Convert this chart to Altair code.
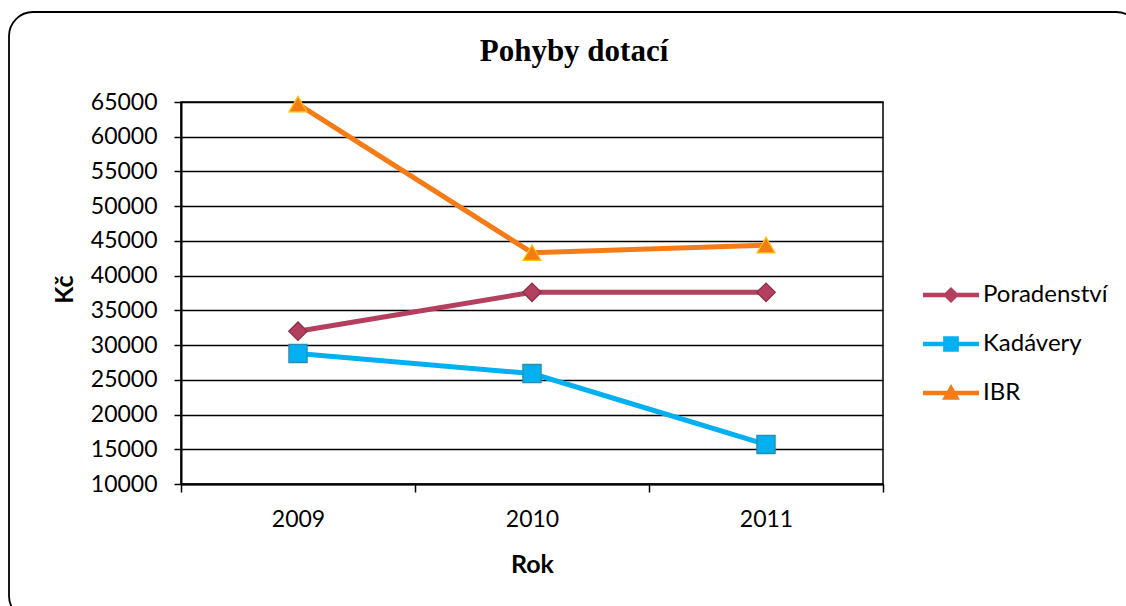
import altair as alt
import pandas as pd

# ---- data ----
YEARS = ["2009", "2010", "2011"]
SERIES = ["Poradenství", "Kadávery", "IBR"]
PORADENSTVI = [32000, 37600, 37600]
KADAVERY = [28800, 25900, 15700]
IBR = [64700, 43300, 44400]
Y_TICKS = [10000, 15000, 20000, 25000, 30000, 35000, 40000, 45000, 50000, 55000, 60000, 65000]

TITLE = "Pohyby dotací"
X_TITLE = "Rok"
Y_TITLE = "Kč"

# ---- styles ----
LINE_COLORS = ["#B3405E", "#00B0F0", "#F47B16"]
OUTLINE_COLORS = ["#8C2F47", "#2E8BAA", "#FFC000"]
SHAPES = ["diamond", "square", "triangle-up"]
SIZES = [340, 320, 420]
LEGEND_PATHS = [
    "M-1,-0.08L1,-0.08L1,0.08L-1,0.08Z M0,-0.29L0.29,0L0,0.29L-0.29,0Z",
    "M-1,-0.08L1,-0.08L1,0.08L-1,0.08Z M-0.28,-0.28L0.28,-0.28L0.28,0.28L-0.28,0.28Z",
    "M-1,-0.08L1,-0.08L1,0.08L-1,0.08Z M0,-0.32L0.32,0.24L-0.32,0.24Z",
]

rows = []
for name, vals in zip(SERIES, [PORADENSTVI, KADAVERY, IBR]):
    for yr, v in zip(YEARS, vals):
        rows.append({"Rok": yr, "Series": name, "Value": v})
df = pd.DataFrame(rows)

LABEL_FONT = "Lato"

X = alt.X(
    "Rok:O",
    sort=YEARS,
    bandPosition=0.5,
    scale=alt.Scale(type="band", domain=YEARS, paddingInner=0, paddingOuter=0),
    axis=alt.Axis(
        title=X_TITLE,
        tickBand="extent",
        labelAngle=0,
        labelFont=LABEL_FONT,
        labelFontSize=23,
        labelColor="black",
        labelPadding=16,
        tickSize=8,
        tickColor="black",
        tickWidth=1.5,
        domainColor="black",
        domainWidth=2,
        grid=False,
        titleFont=LABEL_FONT,
        titleFontSize=25,
        titleFontWeight="bold",
        titleColor="black",
        titleBaseline="alphabetic",
        titleY=88,
    ),
)

Y = alt.Y(
    "Value:Q",
    scale=alt.Scale(domain=[10000, 65000], nice=False, zero=False),
    axis=alt.Axis(
        title=Y_TITLE,
        values=Y_TICKS,
        format="d",
        grid=True,
        gridColor="black",
        gridWidth=1.5,
        labelFont=LABEL_FONT,
        labelFontSize=23,
        labelColor="black",
        labelPadding=17,
        labelFlush=False,
        tickSize=7,
        tickColor="black",
        tickWidth=1.5,
        domainColor="black",
        domainWidth=2,
        titleFont=LABEL_FONT,
        titleFontSize=25,
        titleFontWeight="bold",
        titleColor="black",
        titleAngle=270,
        titleBaseline="middle",
        titleAlign="center",
        titleX=-117,
        titleY=187,
    ),
)

base = alt.Chart(df)

lines = base.mark_line(strokeWidth=5).encode(
    x=X,
    y=Y,
    color=alt.Color("Series:N", scale=alt.Scale(domain=SERIES, range=LINE_COLORS), legend=None),
)

points = base.mark_point(filled=True, opacity=1, strokeWidth=1.3).encode(
    x=X,
    y=Y,
    fill=alt.Fill("Series:N", scale=alt.Scale(domain=SERIES, range=LINE_COLORS), legend=None),
    stroke=alt.Stroke("Series:N", scale=alt.Scale(domain=SERIES, range=OUTLINE_COLORS), legend=None),
    shape=alt.Shape("Series:N", scale=alt.Scale(domain=SERIES, range=SHAPES), legend=None),
    size=alt.Size("Series:N", scale=alt.Scale(domain=SERIES, range=SIZES), legend=None),
)

legend_def = alt.Legend(
    title=None,
    orient="none",
    legendX=742,
    legendY=165,
    labelFont=LABEL_FONT,
    labelFontSize=24,
    labelColor="black",
    labelOffset=4,
    symbolSize=3136,
    symbolStrokeWidth=0,
    symbolOpacity=1,
    rowPadding=9,
    padding=0,
)

legend_layer = base.mark_point(filled=True, opacity=0).encode(
    x=X,
    y=Y,
    fill=alt.Fill("Series:N", scale=alt.Scale(domain=SERIES, range=LINE_COLORS), legend=legend_def),
    shape=alt.Shape("Series:N", scale=alt.Scale(domain=SERIES, range=LEGEND_PATHS), legend=legend_def),
)

one = alt.Data(values=[{}])

frame = alt.Chart(one).mark_rect(
    fillOpacity=0, stroke="black", strokeWidth=1.8, cornerRadius=24
).encode(
    x=alt.value(-172), x2=alt.value(959), y=alt.value(-90), y2=alt.value(518)
)

title = alt.Chart(one).mark_text(
    text=TITLE,
    font="Liberation Serif",
    fontSize=31,
    fontWeight="bold",
    color="black",
    align="center",
    baseline="alphabetic",
).encode(x=alt.value(393), y=alt.value(-41))

chart = (
    alt.layer(frame, lines, points, legend_layer, title)
    .resolve_scale(fill="independent", shape="independent", stroke="independent", size="independent")
    .properties(
        width=702,
        height=382,
        autosize=alt.AutoSizeParams(type="none"),
        padding={"left": 181, "top": 102, "right": 243, "bottom": 122},
        background="white",
    )
    .configure_view(stroke="black", strokeWidth=1.5)
)

chart.save("out.html", embed_options={"renderer": "svg", "actions": False})
